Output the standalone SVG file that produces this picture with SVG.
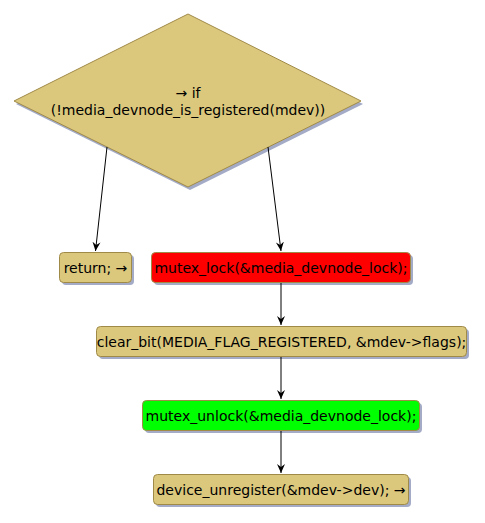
<svg xmlns="http://www.w3.org/2000/svg" width="485" height="523" viewBox="0 0 485 523">
<defs>
<style>
.n{fill:#dbc87c;stroke:#a08a48;stroke-width:1}
.s{fill:#a3abc6}
.t{font-family:"DejaVu Sans",sans-serif;font-size:14px;fill:#000;text-anchor:middle}
.e{stroke:#000;stroke-width:1;fill:none}
</style>
<marker id="a" markerWidth="10" markerHeight="10" refX="9" refY="5" orient="auto" markerUnits="userSpaceOnUse">
<path d="M0,1 L9,5 L0,9 L3,5 Z" fill="#000"/>
</marker>
</defs>
<rect width="485" height="523" fill="#fff"/>
<g id="cond">
<polygon class="s" points="190,17 363,104 190,190 16,104"/>
<polygon class="n" points="188,14 361,101 188,187 14,101"/>
<text class="t" x="188" y="98">→ if</text>
<text class="t" x="188" y="115">(!media_devnode_is_registered(mdev))</text>
</g>
<g id="ret">
<rect class="s" x="62" y="255" width="72" height="30" rx="4"/>
<rect class="n" x="59.5" y="252.5" width="72" height="30" rx="4"/>
<text class="t" x="95.5" y="272.5">return; →</text>
</g>
<g id="lock">
<rect class="s" x="154" y="255" width="259" height="30" rx="4"/>
<rect x="151.5" y="252.5" width="259" height="30" rx="4" fill="#ff0000" stroke="#a08a48"/>
<text class="t" x="281" y="272.5">mutex_lock(&amp;media_devnode_lock);</text>
</g>
<g id="clear">
<rect class="s" x="99" y="329" width="370" height="30" rx="4"/>
<rect class="n" x="96.5" y="326.5" width="370" height="30" rx="4"/>
<text class="t" x="281.5" y="346.5">clear_bit(MEDIA_FLAG_REGISTERED, &amp;mdev-&gt;flags);</text>
</g>
<g id="unlock">
<rect class="s" x="145" y="403" width="277" height="30" rx="4"/>
<rect x="142.5" y="400.5" width="277" height="30" rx="4" fill="#00ff00" stroke="#a08a48"/>
<text class="t" x="281" y="420.5">mutex_unlock(&amp;media_devnode_lock);</text>
</g>
<g id="unreg">
<rect class="s" x="156" y="477" width="255" height="30" rx="4"/>
<rect class="n" x="153.5" y="474.5" width="255" height="30" rx="4"/>
<text class="t" x="281" y="494.5">device_unregister(&amp;mdev-&gt;dev); →</text>
</g>
<g id="edges">
<line class="e" x1="107" y1="147" x2="95.5" y2="251" marker-end="url(#a)"/>
<line class="e" x1="268" y1="147" x2="281" y2="251" marker-end="url(#a)"/>
<line class="e" x1="281" y1="283" x2="281" y2="325" marker-end="url(#a)"/>
<line class="e" x1="281" y1="357" x2="281" y2="399" marker-end="url(#a)"/>
<line class="e" x1="281" y1="431" x2="281" y2="473" marker-end="url(#a)"/>
</g>
</svg>
